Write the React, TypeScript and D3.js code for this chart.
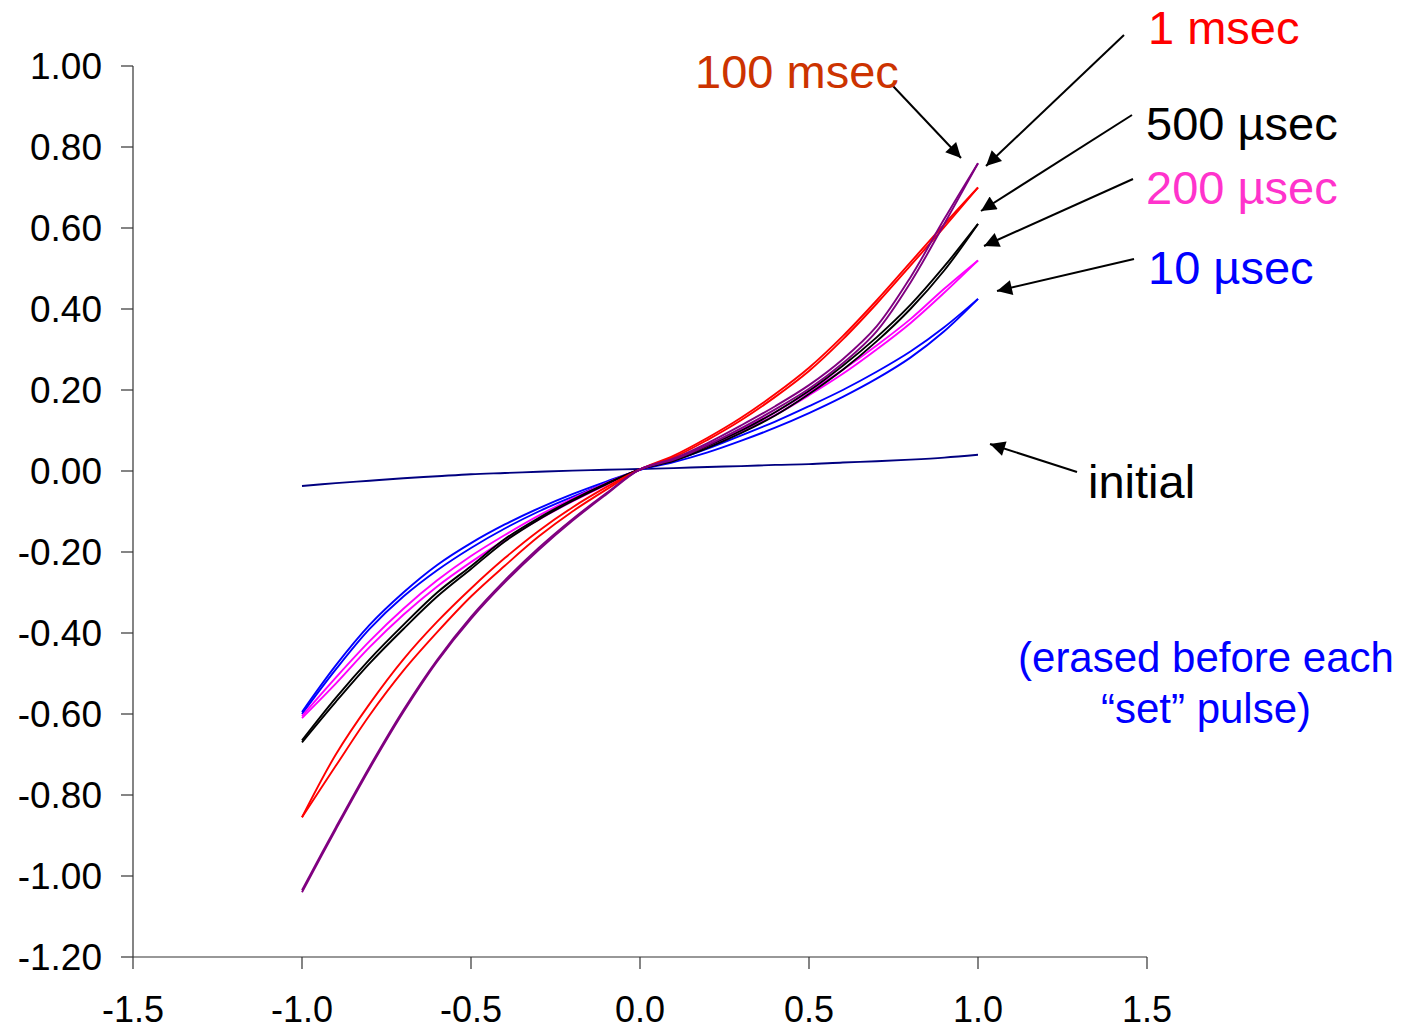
import React from "react";
import * as d3 from "d3";

const xs = [-1.0, -0.9, -0.8, -0.7, -0.6, -0.5, -0.4, -0.3, -0.2, -0.1, 0, 0.1, 0.2, 0.3, 0.4, 0.5, 0.6, 0.7, 0.8, 0.9, 1.0];

const initialVals = [-0.037, -0.03, -0.024, -0.018, -0.013, -0.008, -0.005, -0.002, 0.001, 0.003, 0.005, 0.007, 0.01, 0.012, 0.015, 0.017, 0.021, 0.024, 0.028, 0.033, 0.04];

const blueA = [-0.595, -0.48, -0.38, -0.3, -0.232, -0.178, -0.132, -0.092, -0.057, -0.026, 0.003, 0.026, 0.055, 0.088, 0.122, 0.16, 0.2, 0.245, 0.295, 0.355, 0.425];
const blueB = [-0.6, -0.49, -0.39, -0.31, -0.245, -0.19, -0.142, -0.1, -0.064, -0.03, 0.003, 0.022, 0.046, 0.075, 0.107, 0.143, 0.183, 0.228, 0.28, 0.345, 0.425];

const magentaA = [-0.605, -0.51, -0.42, -0.34, -0.27, -0.21, -0.158, -0.11, -0.068, -0.03, 0.004, 0.03, 0.065, 0.103, 0.145, 0.195, 0.25, 0.31, 0.375, 0.45, 0.52];
const magentaB = [-0.61, -0.525, -0.435, -0.355, -0.285, -0.225, -0.17, -0.12, -0.075, -0.034, 0.004, 0.028, 0.06, 0.097, 0.138, 0.187, 0.24, 0.3, 0.365, 0.44, 0.52];

const blackA = [-0.665, -0.56, -0.465, -0.38, -0.3, -0.235, -0.168, -0.116, -0.071, -0.031, 0.004, 0.028, 0.062, 0.1, 0.145, 0.198, 0.26, 0.33, 0.41, 0.505, 0.61];
const blackB = [-0.67, -0.57, -0.475, -0.39, -0.31, -0.242, -0.174, -0.12, -0.074, -0.033, 0.004, 0.025, 0.057, 0.094, 0.137, 0.19, 0.25, 0.32, 0.4, 0.495, 0.61];

const redA = [-0.855, -0.7, -0.575, -0.465, -0.372, -0.29, -0.215, -0.148, -0.09, -0.04, 0.004, 0.038, 0.082, 0.132, 0.19, 0.255, 0.333, 0.421, 0.515, 0.609, 0.7];
const redB = [-0.855, -0.728, -0.603, -0.493, -0.398, -0.31, -0.234, -0.162, -0.1, -0.046, 0.004, 0.034, 0.077, 0.126, 0.183, 0.247, 0.325, 0.413, 0.507, 0.602, 0.7];

const purpleA = [-1.04, -0.885, -0.735, -0.595, -0.47, -0.365, -0.275, -0.195, -0.123, -0.058, 0.004, 0.031, 0.069, 0.113, 0.16, 0.212, 0.276, 0.357, 0.478, 0.622, 0.76];
const purpleB = [-1.035, -0.88, -0.73, -0.59, -0.466, -0.36, -0.27, -0.19, -0.119, -0.055, 0.004, 0.028, 0.064, 0.106, 0.152, 0.203, 0.266, 0.345, 0.465, 0.61, 0.76];

const xTicks = [-1.5, -1.0, -0.5, 0.0, 0.5, 1.0, 1.5];
const yTicks = [1.0, 0.8, 0.6, 0.4, 0.2, 0.0, -0.2, -0.4, -0.6, -0.8, -1.0, -1.2];

const seriesList = [
  { name: "initial", color: "#000080", branches: [initialVals] },
  { name: "10 µsec", color: "#0000FF", branches: [blueA, blueB] },
  { name: "200 µsec", color: "#FF00FF", branches: [magentaA, magentaB] },
  { name: "500 µsec", color: "#000000", branches: [blackA, blackB] },
  { name: "1 msec", color: "#FF0000", branches: [redA, redB] },
  { name: "100 msec", color: "#800080", branches: [purpleA, purpleB] },
];

const labels = [
  { text: "1 msec", color: "#FF0000", x: 1148, y: 44 },
  { text: "100 msec", color: "#CC3300", x: 695, y: 88 },
  { text: "500 µsec", color: "#000000", x: 1146, y: 140 },
  { text: "200 µsec", color: "#FF33CC", x: 1146, y: 204 },
  { text: "10 µsec", color: "#0000FF", x: 1148, y: 284 },
  { text: "initial", color: "#000000", x: 1088, y: 498 },
];

const arrows = [
  { x1: 893, y1: 86, x2: 961, y2: 158 },
  { x1: 1124, y1: 35, x2: 986, y2: 166 },
  { x1: 1132, y1: 115, x2: 981, y2: 211 },
  { x1: 1133, y1: 179, x2: 984, y2: 246 },
  { x1: 1134, y1: 259, x2: 997, y2: 291 },
  { x1: 1077, y1: 472, x2: 990, y2: 444 },
];

const FONT = "'Liberation Sans', Arial, sans-serif";

export default function App() {
  const x = d3.scaleLinear().domain([-1.5, 1.5]).range([133, 1147]);
  const y = d3.scaleLinear().domain([-1.2, 1.0]).range([957, 66]);
  const line = d3
    .line<number>()
    .x((_, i) => x(xs[i]))
    .y((d) => y(d))
    .curve(d3.curveCatmullRom.alpha(0.5));

  return (
    <div style={{ position: "absolute", left: 0, top: 0 }}>
      <svg width={1415} height={1031} style={{ display: "block", background: "#fff" }}>
        <defs>
          <marker id="ah" viewBox="0 0 10 10" refX="10" refY="5" markerWidth="18" markerHeight="15" markerUnits="userSpaceOnUse" orient="auto">
            <path d="M0,0 L10,5 L0,10 Z" fill="#000" />
          </marker>
        </defs>
        <g stroke="#333" strokeWidth={1.2} fill="none">
          <line x1={x(-1.5)} x2={x(-1.5)} y1={y(1.0)} y2={y(-1.2)} />
          <line x1={x(-1.5)} x2={x(1.5)} y1={y(-1.2)} y2={y(-1.2)} />
          {yTicks.map((t) => (
            <line key={"yt" + t} x1={x(-1.5) - 12} x2={x(-1.5)} y1={y(t)} y2={y(t)} />
          ))}
          {xTicks.map((t) => (
            <line key={"xt" + t} x1={x(t)} x2={x(t)} y1={y(-1.2)} y2={y(-1.2) + 12} />
          ))}
        </g>
        <g fontFamily={FONT} fontSize={37} fill="#000">
          {yTicks.map((t) => (
            <text key={"yl" + t} x={102} y={y(t)} dy="0.36em" textAnchor="end">
              {d3.format(".2f")(t).replace("−", "-")}
            </text>
          ))}
        </g>
        <g fontFamily={FONT} fontSize={36} fill="#000">
          {xTicks.map((t) => (
            <text key={"xl" + t} x={x(t)} y={1022} textAnchor="middle">
              {d3.format(".1f")(t).replace("−", "-")}
            </text>
          ))}
        </g>
        <g fill="none" strokeWidth={1.9} strokeLinejoin="round">
          {seriesList.map((s) =>
            s.branches.map((b, bi) => (
              <path key={s.name + bi} d={line(b) || ""} stroke={s.color} />
            ))
          )}
        </g>
        <g stroke="#000" strokeWidth={2}>
          {arrows.map((a, i) => (
            <line key={"ar" + i} x1={a.x1} y1={a.y1} x2={a.x2} y2={a.y2} markerEnd="url(#ah)" />
          ))}
        </g>
        <g fontFamily={FONT} fontSize={47}>
          {labels.map((l) => (
            <text key={l.text} x={l.x} y={l.y} fill={l.color}>
              {l.text}
            </text>
          ))}
        </g>
        <g fontFamily={FONT} fontSize={42} fill="#0000FF" textAnchor="middle">
          <text x={1206} y={672}>(erased before each</text>
          <text x={1206} y={723}>“set” pulse)</text>
        </g>
      </svg>
    </div>
  );
}
